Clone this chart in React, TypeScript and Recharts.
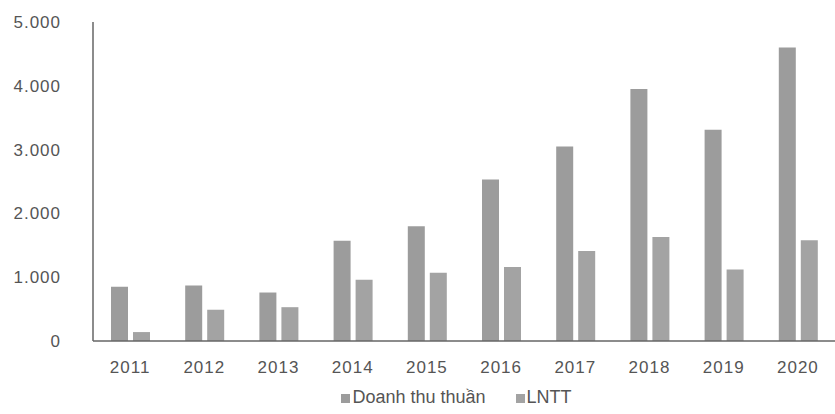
import React from "react";
import { BarChart, Bar, XAxis, YAxis, Legend } from "recharts";

const years = ["2011", "2012", "2013", "2014", "2015", "2016", "2017", "2018", "2019", "2020"];
const doanhThuThuan = [850, 870, 760, 1570, 1800, 2530, 3050, 3950, 3310, 4600];
const lntt = [140, 490, 530, 960, 1070, 1160, 1410, 1630, 1120, 1580];
const yTicks = [0, 1000, 2000, 3000, 4000, 5000];

const data = years.map((y, i) => ({ year: y, dt: doanhThuThuan[i], ln: lntt[i] }));

const fmt = (v: number) => (v === 0 ? "0" : v.toLocaleString("de-DE"));

export default function App() {
  return (
    <div style={{ position: "absolute", left: 0, top: 0, background: "#fff", fontFamily: "'Liberation Sans', Arial, sans-serif" }}>
      <BarChart
        width={835}
        height={414}
        data={data}
        margin={{ top: 22, right: 0, bottom: 6, left: 0 }}
        barGap={5}
        barSize={17}
      >
        <XAxis
          dataKey="year"
          axisLine={{ stroke: "#666", strokeWidth: 1.5 }}
          tickLine={false}
          tick={{ fill: "#555", fontSize: 17, letterSpacing: 1 }}
          tickMargin={14}
          height={46}
        />
        <YAxis
          domain={[0, 5000]}
          ticks={yTicks}
          tickFormatter={fmt}
          axisLine={{ stroke: "#666", strokeWidth: 1.5 }}
          tickLine={false}
          tick={{ fill: "#555", fontSize: 17, letterSpacing: 1 }}
          tickMargin={26}
          width={93}
        />
        <Legend
          verticalAlign="bottom"
          iconType="square"
          iconSize={9}
          wrapperStyle={{ fontSize: 18, color: "#555", paddingLeft: 44 }}
          formatter={(value: string, _e: any, i: number) => (
            <span style={{ color: "#555", marginLeft: -2, marginRight: i === 0 ? 20 : 0 }}>{value}</span>
          )}
        />
        <Bar dataKey="dt" name="Doanh thu thuần" fill="#9c9c9c" isAnimationActive={false} />
        <Bar dataKey="ln" name="LNTT" fill="#a3a3a3" isAnimationActive={false} />
      </BarChart>
    </div>
  );
}
